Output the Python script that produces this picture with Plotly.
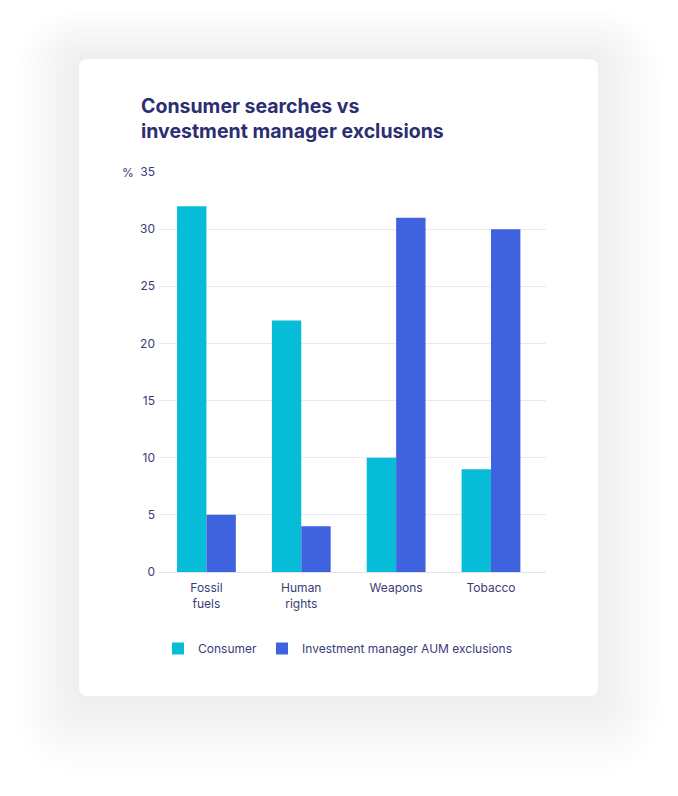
import plotly.graph_objects as go

categories = ["Fossil<br>fuels", "Human<br>rights", "Weapons", "Tobacco"]
consumer = [32, 22, 10, 9]
investment = [5, 4, 31, 30]
series_names = ["Consumer", "Investment manager AUM exclusions"]
y_ticks = [0, 5, 10, 15, 20, 25, 30, 35]

W, H = 678, 796
ML, MR, MT, MB = 159, 132, 172, 224
PW, PH = W - ML - MR, H - MT - MB
NAVY = "#2c2e72"
TEXT = "#3b3b78"
FONT = "Inter, Roboto, sans-serif"

def px(x):
    return (x - ML) / PW

def py(y):
    return (H - MB - y) / PH

def rounded_path(x0, y0, x1, y1, r):
    def P(x, y):
        return f"{px(x):.5f},{py(y):.5f}"
    return (f"M {P(x0 + r, y0)} L {P(x1 - r, y0)} Q {P(x1, y0)} {P(x1, y0 + r)} "
            f"L {P(x1, y1 - r)} Q {P(x1, y1)} {P(x1 - r, y1)} "
            f"L {P(x0 + r, y1)} Q {P(x0, y1)} {P(x0, y1 - r)} "
            f"L {P(x0, y0 + r)} Q {P(x0, y0)} {P(x0 + r, y0)} Z")

fig = go.Figure()
fig.add_trace(go.Bar(x=categories, y=consumer, name=series_names[0],
                     marker=dict(color="#07bcd6", line=dict(width=0))))
fig.add_trace(go.Bar(x=categories, y=investment, name=series_names[1],
                     marker=dict(color="#3f62df", line=dict(width=0))))

shapes = []
cx0, cy0, cx1, cy1 = 79, 59, 598, 696
n = 16
for i in range(n, 0, -1):
    e = i * 4
    off = i * 0.9
    shapes.append(dict(type="path", xref="paper", yref="paper", layer="below",
                       path=rounded_path(cx0 - e, cy0 - e + off, cx1 + e, cy1 + e + off, 8 + e),
                       fillcolor="#000000", opacity=0.0045, line=dict(width=0)))
shapes.append(dict(type="path", xref="paper", yref="paper", layer="below",
                   path=rounded_path(cx0, cy0, cx1, cy1, 9),
                   fillcolor="#ffffff", line=dict(width=0)))

fig.update_layout(
    width=W, height=H,
    margin=dict(l=ML, r=MR, t=MT, b=MB),
    paper_bgcolor="#ffffff", plot_bgcolor="rgba(0,0,0,0)",
    barmode="group", bargap=0.38, bargroupgap=0,
    font=dict(family=FONT, color=TEXT, size=12),
    showlegend=True,
    legend=dict(orientation="h", x=px(158), xanchor="left", y=py(634), yanchor="top",
                font=dict(size=12, color=TEXT, family=FONT),
                itemclick=False, traceorder="normal", bgcolor="rgba(0,0,0,0)"),
    xaxis=dict(range=[-0.5, 3.58], showgrid=False, showline=False, zeroline=False,
               ticks="", tickfont=dict(size=12, color=TEXT), ticklabelstandoff=7),
    yaxis=dict(range=[0, 35], tickvals=y_ticks, showgrid=True, gridcolor="#e9e9ef",
               gridwidth=1, zeroline=True, zerolinecolor="#e4e4ea", zerolinewidth=1,
               showline=False, ticks="", tickfont=dict(size=12, color=TEXT),
               ticklabelstandoff=3),
    shapes=shapes,
    annotations=[
        dict(text="<b>Consumer searches vs<br>investment manager exclusions</b>",
             xref="paper", yref="paper", x=px(139), y=py(92), xanchor="left", yanchor="top",
             showarrow=False, align="left",
             font=dict(size=19.5, color=NAVY, family=FONT)),
        dict(text="%", xref="paper", yref="paper", x=px(128), y=py(173),
             xanchor="center", yanchor="middle", showarrow=False,
             font=dict(size=12, color=TEXT, family=FONT)),
    ],
)

fig.write_html("out.html")
